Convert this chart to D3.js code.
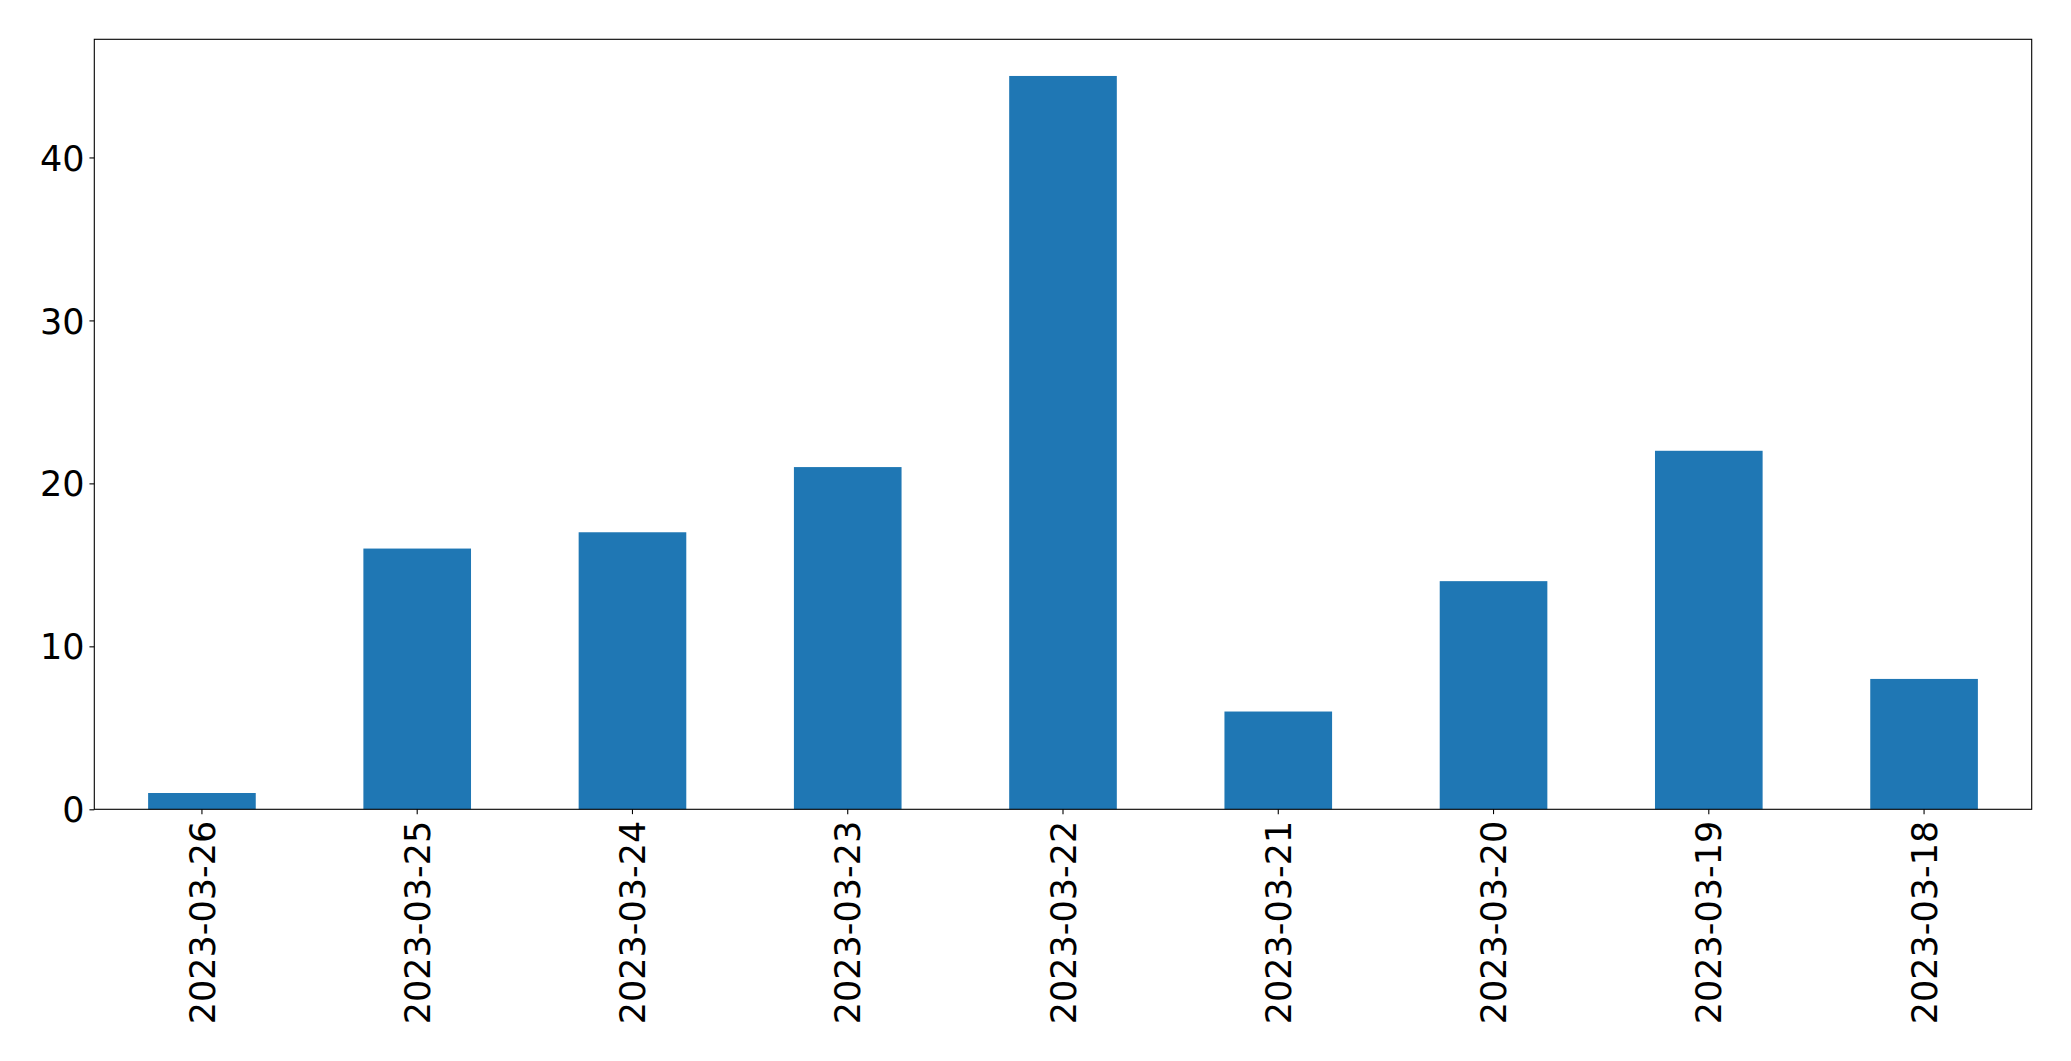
<!DOCTYPE html>
<html><head><meta charset="utf-8">
<script src="https://cdn.jsdelivr.net/npm/d3@7"></script>
<style>body{margin:0;background:#fff}svg{display:block}text{font-family:"DejaVu Sans",sans-serif;fill:#000}</style>
</head><body>
<script>
const categories = ["2023-03-26","2023-03-25","2023-03-24","2023-03-23","2023-03-22","2023-03-21","2023-03-20","2023-03-19","2023-03-18"];
const values = [1,16,17,21,45,6,14,22,8];
const yTicks = [0,10,20,30,40];

const W = 2071, H = 1061;
const m = {left:94.3, right:2031.7, top:39.3, bottom:809.3};
const svg = d3.select("body").append("svg").attr("width",W).attr("height",H);

const x = d3.scaleBand().domain(categories).range([m.left,m.right]).paddingInner(0.5).paddingOuter(0.25);
const y = d3.scaleLinear().domain([0, d3.max(values)*1.05]).range([m.bottom,m.top]);

svg.append("g").selectAll("rect").data(values).join("rect")
  .attr("x",(d,i)=>x(categories[i]))
  .attr("width",x.bandwidth())
  .attr("y",d=>y(d))
  .attr("height",d=>y(0)-y(d))
  .attr("fill","#1f77b4");

const fs = 35;
const yAxis = svg.append("g").attr("transform",`translate(${m.left},0)`)
  .call(d3.axisLeft(y).tickValues(yTicks).tickSize(4.86).tickPadding(4.86).tickFormat(d3.format("d")));
yAxis.select(".domain").remove();
yAxis.selectAll("text").style("font-size",fs+"px").attr("dy","0.36em");
yAxis.selectAll("line").attr("stroke","#000").attr("stroke-width",1.1);

const xAxis = svg.append("g").attr("transform",`translate(0,${m.bottom})`)
  .call(d3.axisBottom(x).tickSize(4.86).tickPadding(0));
xAxis.select(".domain").remove();
xAxis.selectAll("line").attr("stroke","#000").attr("stroke-width",1.1);
xAxis.selectAll("text").style("font-size",fs+"px")
  .attr("text-anchor","end")
  .attr("transform","rotate(-90)")
  .attr("x",-11.5).attr("y",0).attr("dy","0.36em");

svg.append("rect").attr("x",m.left).attr("y",m.top)
  .attr("width",m.right-m.left).attr("height",m.bottom-m.top)
  .attr("fill","none").attr("stroke","#000").attr("stroke-width",1.1);
</script>
</body></html>
